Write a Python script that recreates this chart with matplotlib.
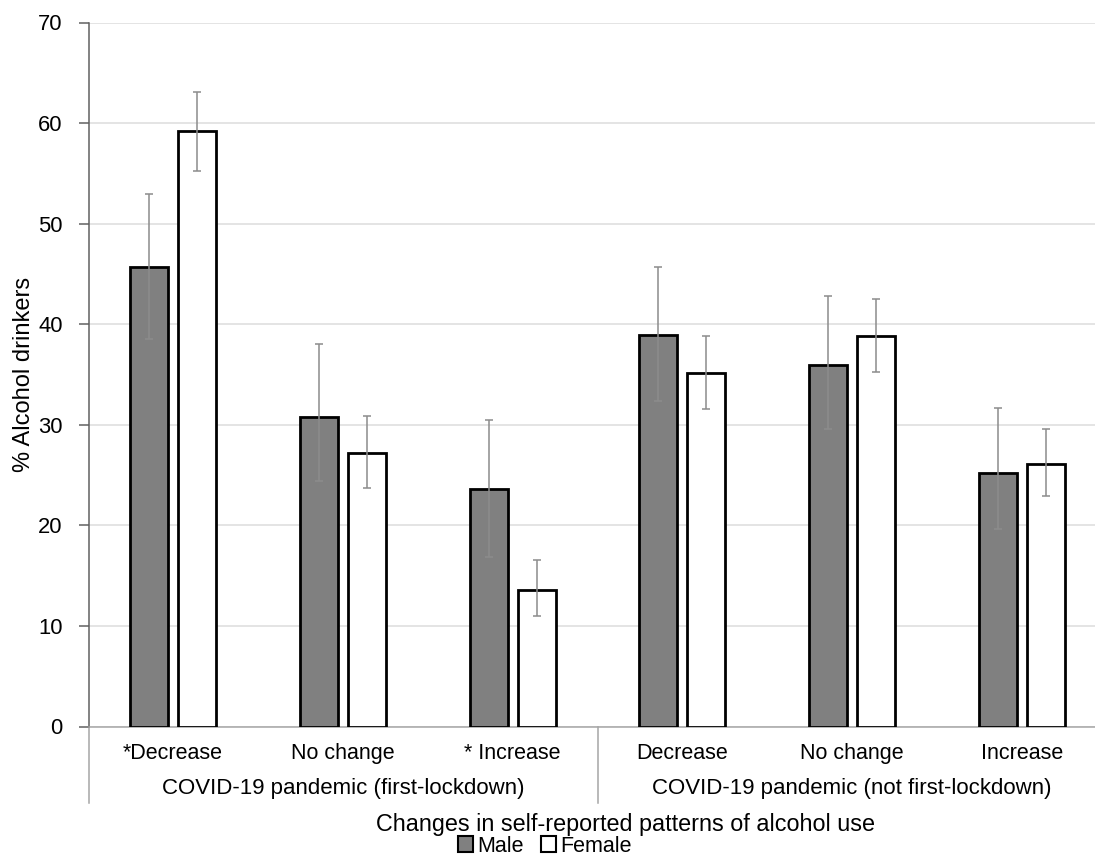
import numpy as np
import matplotlib
matplotlib.use("Agg")
import matplotlib.pyplot as plt
import matplotlib.transforms as mtransforms
from matplotlib.patches import Patch

plt.rcParams["font.family"] = ["Liberation Sans", "DejaVu Sans"]

# Values
categories = ["*Decrease", "No change", "* Increase", "Decrease", "No change", "Increase"]
groups = ["COVID-19 pandemic (first-lockdown)", "COVID-19 pandemic (not first-lockdown)"]

male = [45.7, 30.8, 23.6, 38.9, 35.9, 25.2]
male_lo = [38.5, 24.4, 16.9, 32.4, 29.6, 19.6]
male_hi = [52.9, 38.0, 30.5, 45.7, 42.8, 31.7]

female = [59.2, 27.2, 13.6, 35.1, 38.8, 26.1]
female_lo = [55.2, 23.7, 11.0, 31.6, 35.2, 22.9]
female_hi = [63.1, 30.9, 16.6, 38.8, 42.5, 29.6]

x = np.arange(len(categories))
W, H = 1095, 857

fig = plt.figure(figsize=(W / 100, H / 100), dpi=100)
ax = fig.add_axes([89 / W, 1 - 726.5 / H, (W - 89) / W, (726.5 - 22.5) / H])

bw = 0.224
off = 0.141
err_m = [np.array(male) - np.array(male_lo), np.array(male_hi) - np.array(male)]
err_f = [np.array(female) - np.array(female_lo), np.array(female_hi) - np.array(female)]
ekw = dict(ecolor="#8c8c8c", elinewidth=1.1, capsize=3, capthick=1.1)

ax.bar(x - off, male, bw, color="#808080", edgecolor="black", linewidth=2,
       yerr=err_m, error_kw=ekw, zorder=3)
ax.bar(x + off, female, bw, color="white", edgecolor="black", linewidth=2,
       yerr=err_f, error_kw=ekw, zorder=3)

ax.set_ylim(0, 70)
ax.set_xlim(-0.495, 5.43)
ax.set_yticks(range(0, 71, 10))
ax.yaxis.grid(True, color="#dcdcdc", linewidth=1.1, zorder=0)
ax.set_axisbelow(True)

for s in ["top", "right"]:
    ax.spines[s].set_visible(False)
ax.spines["left"].set_color("#606060")
ax.spines["bottom"].set_color("#a6a6a6")
ax.spines["left"].set_linewidth(1.1)
ax.spines["bottom"].set_linewidth(1.1)

ax.tick_params(axis="y", length=7, width=1.1, color="#606060", pad=12, labelsize=15.8)
ax.set_xticks(x)
ax.set_xticklabels(categories, fontsize=15.5)
ax.tick_params(axis="x", length=0, pad=12)

ax.set_ylabel("% Alcohol drinkers", fontsize=17, labelpad=2)

# group separators and group labels below the axis
trans = mtransforms.blended_transform_factory(ax.transData, ax.transAxes)
for xs in [-0.495, 2.5, 5.5]:
    ax.plot([xs, xs], [0, -0.108], transform=trans, color="#a6a6a6",
            linewidth=1.1, clip_on=False)
ax.text(1, -0.088, groups[0], transform=trans, ha="center", va="center", fontsize=16)
ax.text(4, -0.088, groups[1], transform=trans, ha="center", va="center", fontsize=16)

fig.text(625 / W, 1 - 825 / H, "Changes in self-reported patterns of alcohol use",
         ha="center", va="center", fontsize=16.8)

handles = [Patch(facecolor="#808080", edgecolor="black", linewidth=1.5, label="Male"),
           Patch(facecolor="white", edgecolor="black", linewidth=1.5, label="Female")]
fig.legend(handles=handles, loc="center", bbox_to_anchor=(545 / W, 1 - 846 / H),
           ncol=2, frameon=False, fontsize=15.5, handlelength=0.7, handleheight=0.7,
           handletextpad=0.2, columnspacing=0.8, borderaxespad=0, borderpad=0)

fig.savefig("out.png", dpi=100)
